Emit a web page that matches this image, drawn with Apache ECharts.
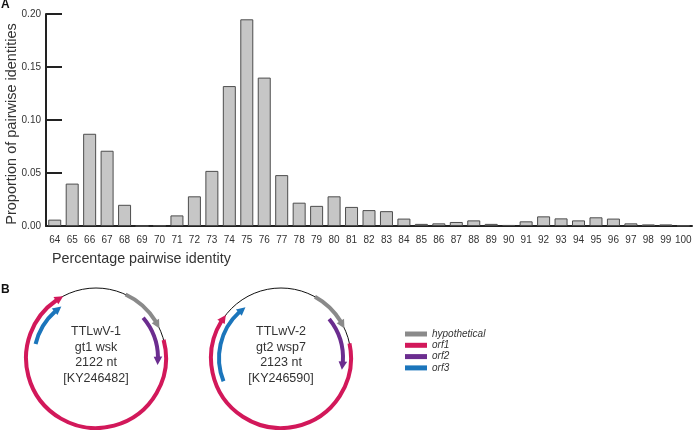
<!DOCTYPE html>
<html>
<head>
<meta charset="utf-8">
<script src="https://cdn.jsdelivr.net/npm/echarts@6/dist/echarts.min.js"></script>
<style>
  html, body { margin: 0; padding: 0; background: #fff; }
  #chart { width: 693px; height: 430px; }
</style>
</head>
<body>
<div id="chart"></div>
<script>
// ---- Panel A data ----
const categories = ['64','65','66','67','68','69','70','71','72','73','74','75','76','77','78','79','80','81','82',
  '83','84','85','86','87','88','89','90','91','92','93','94','95','96','97','98','99','100'];
const proportions = [0.006, 0.040, 0.087, 0.071, 0.020, 0, 0.0005, 0.010, 0.028, 0.052, 0.132, 0.195, 0.140,
  0.048, 0.022, 0.019, 0.028, 0.018, 0.015, 0.014, 0.007, 0.002, 0.0025, 0.0038, 0.0053, 0.002, 0.001,
  0.0044, 0.0091, 0.0072, 0.0053, 0.0082, 0.007, 0.0025, 0.0015, 0.0015, 0.0005];

// ---- Panel B data (angles in degrees, clockwise from top) ----
const geneNames = ['hypothetical', 'orf1', 'orf2', 'orf3'];
const geneTrack = ['outer', 'outer', 'inner', 'inner'];
const gt1Start = [25, 75, 49.5, 283];
const gt1End   = [65, 332, 96.5, 326];
const gt2Start = [29, 78, 51, 248];
const gt2End   = [65, 308, 101, 325];
const genomeLabels = [
  ['TTLwV-1', 'gt1 wsk', '2122 nt', '[KY246482]'],
  ['TTLwV-2', 'gt2 wsp7', '2123 nt', '[KY246590]']
];

// ---- styles ----
const geneColors = { hypothetical: '#8a8a8a', orf1: '#d2185a', orf2: '#6b2d8f', orf3: '#1b75bb' };
const trackRadius = { outer: 70, inner: 62, base: 70 };
const FONT = '"Liberation Sans", Arial, Helvetica, sans-serif';
const circleCenters = [[96, 358], [281, 358]];

function renderArc(params, api) {
  const cs = params.coordSys;
  const cx = cs.cx, cy = cs.cy;
  const r = api.value(0), a0 = api.value(1), a1 = api.value(2), kind = api.value(3);
  const color = api.visual('color');
  if (kind === 0) {
    const p = api.coord([r, 0]);
    const R = Math.hypot(p[0] - cx, p[1] - cy);
    return { type: 'circle', shape: { cx: cx, cy: cy, r: R },
      style: { fill: 'none', stroke: '#111', lineWidth: 1 } };
  }
  const p0 = api.coord([r, a0]);
  const p1 = api.coord([r, a1]);
  const R = Math.hypot(p0[0] - cx, p0[1] - cy);
  const s = Math.atan2(p0[1] - cy, p0[0] - cx);
  let e = Math.atan2(p1[1] - cy, p1[0] - cx);
  while (e <= s) e += Math.PI * 2;
  const L = 8.5, W = 4.3;
  const eb = e - L / R;
  const tip = [cx + R * Math.cos(e), cy + R * Math.sin(e)];
  const bc = [cx + R * Math.cos(eb), cy + R * Math.sin(eb)];
  const n = [Math.cos(eb), Math.sin(eb)];
  return {
    type: 'group',
    children: [
      { type: 'arc', shape: { cx: cx, cy: cy, r: R, startAngle: s, endAngle: eb + 0.01, clockwise: true },
        style: { fill: 'none', stroke: color, lineWidth: 4 } },
      { type: 'polygon', shape: { points: [tip, [bc[0] + n[0] * W, bc[1] + n[1] * W], [bc[0] - n[0] * W, bc[1] - n[1] * W]] },
        style: { fill: color } }
    ]
  };
}

const series = [{
  type: 'bar',
  xAxisIndex: 0, yAxisIndex: 0,
  data: proportions,
  barWidth: 13,
  silent: true,
  itemStyle: { color: '#c6c6c6', borderColor: '#4d4d4d', borderWidth: 1 }
}];

[[gt1Start, gt1End], [gt2Start, gt2End]].forEach(function (g, pi) {
  series.push({
    type: 'custom', coordinateSystem: 'polar', polarIndex: pi, name: 'base' + pi,
    silent: true, renderItem: renderArc,
    data: [[trackRadius.base, 0, 360, 0]], z: 1
  });
  geneNames.forEach(function (name, i) {
    series.push({
      type: 'custom', coordinateSystem: 'polar', polarIndex: pi, name: name,
      silent: true, renderItem: renderArc,
      itemStyle: { color: geneColors[name] },
      data: [[trackRadius[geneTrack[i]], g[0][i], g[1][i], 1]], z: 2
    });
  });
});

const graphics = [
  { type: 'text', left: 1, top: -1, style: { text: 'A', font: 'bold 12px ' + FONT, fill: '#111' } },
  { type: 'text', left: 1, top: 284, style: { text: 'B', font: 'bold 12px ' + FONT, fill: '#111' } },
  { type: 'text', x: 52, y: 259, style: { text: 'Percentage pairwise identity', font: '14.3px ' + FONT,
    fill: '#333', textVerticalAlign: 'middle', textAlign: 'left' } },
  { type: 'text', x: 12, y: 124, rotation: Math.PI / 2,
    style: { text: 'Proportion of pairwise identities', font: '14.5px ' + FONT,
    fill: '#333', textVerticalAlign: 'middle', textAlign: 'center' } }
];
genomeLabels.forEach(function (lines, gi) {
  lines.forEach(function (t, li) {
    graphics.push({ type: 'text', x: circleCenters[gi][0], y: 331.7 + li * 15.5,
      style: { text: t, font: '12.5px ' + FONT, fill: '#333', textAlign: 'center', textVerticalAlign: 'middle' } });
  });
});

const chart = echarts.init(document.getElementById('chart'), null, { renderer: 'canvas' });
chart.setOption({
  animation: false,
  backgroundColor: '#fff',
  grid: { left: 46, right: 1, top: 14, bottom: 204, containLabel: false, outerBoundsMode: 'none' },
  xAxis: {
    type: 'category', data: categories,
    axisLine: { lineStyle: { color: '#222', width: 2 } },
    axisTick: { inside: true, length: 5, lineStyle: { color: '#222', width: 1.5 } },
    axisLabel: { color: '#333', fontSize: 10, fontFamily: FONT, margin: 9, interval: 0 },
    splitLine: { show: false }
  },
  yAxis: {
    type: 'value', min: 0, max: 0.2, interval: 0.05,
    axisLine: { show: true, lineStyle: { color: '#222', width: 2 } },
    axisTick: { show: true, inside: true, length: 16, lineStyle: { color: '#222', width: 2 } },
    axisLabel: { color: '#333', fontSize: 10, fontFamily: FONT, margin: 5,
      formatter: function (v) { return v.toFixed(2); } },
    splitLine: { show: false }
  },
  polar: circleCenters.map(function (c) { return { center: c, radius: 70 }; }),
  angleAxis: circleCenters.map(function (c, i) {
    return { polarIndex: i, type: 'value', min: 0, max: 360, startAngle: 90, clockwise: true, show: false,
      axisLine: { show: false }, splitLine: { show: false } };
  }),
  radiusAxis: circleCenters.map(function (c, i) {
    return { polarIndex: i, type: 'value', min: 0, max: 70, show: false, splitLine: { show: false } };
  }),
  legend: {
    data: geneNames, orient: 'vertical', left: 405, top: 328.5,
    icon: 'rect', itemWidth: 22, itemHeight: 5, itemGap: 0.3, selectedMode: false,
    textStyle: { fontSize: 10, fontStyle: 'italic', fontFamily: FONT, color: '#333', lineHeight: 11 },
    padding: 0
  },
  graphic: graphics,
  series: series
});
</script>
</body>
</html>
